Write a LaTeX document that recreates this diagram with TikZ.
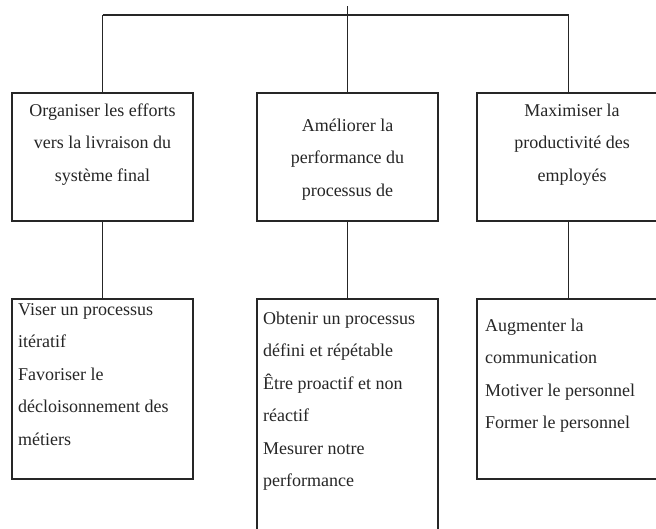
\documentclass[tikz,border=0pt]{standalone}
\usepackage{fontspec}
\setmainfont{Liberation Serif}
\begin{document}
\begin{tikzpicture}[x=1pt,y=-1pt,
  box/.style={draw=black!85, line width=1.2pt, inner sep=0pt, fill=none},
  ctxt/.style={anchor=base, inner sep=0pt, text=black!85},
  ltxt/.style={anchor=base west, inner sep=0pt, text=black!85},
  link/.style={draw=black!85, line width=1.2pt}]
\clip (0,0) rectangle (656,528);
\fill[white] (0,0) rectangle (656,528);
% boxes
\node[box, minimum width=181pt, minimum height=128pt] (b1) at (102.5,157) {};
\node[box, minimum width=181pt, minimum height=128pt] (b2) at (347.5,157) {};
\node[box, minimum width=183pt, minimum height=128pt] (b3) at (568.5,157) {};
\node[box, minimum width=181pt, minimum height=180pt] (b4) at (102.5,389) {};
\node[box, minimum width=181pt, minimum height=236pt] (b5) at (347.5,417) {};
\node[box, minimum width=183pt, minimum height=180pt] (b6) at (568.5,389) {};
% texts
\node[ctxt] (t1) at (102.5,116) {\parbox[t]{175pt}{\centering\fontsize{18}{32.5}\selectfont Organiser les efforts\\vers la livraison du\\système final}};
\node[ctxt] (t2) at (347.5,131) {\parbox[t]{175pt}{\centering\fontsize{18}{32.5}\selectfont Améliorer la\\performance du\\processus de}};
\node[ctxt] (t3) at (572,116) {\parbox[t]{175pt}{\centering\fontsize{18}{32.5}\selectfont Maximiser la\\productivité des\\employés}};
\node[ltxt] (t4) at (18,315) {\parbox[t]{175pt}{\raggedright\fontsize{18}{32.5}\selectfont Viser un processus\\itératif\\Favoriser le\\décloisonnement des\\métiers}};
\node[ltxt] (t5) at (263,324) {\parbox[t]{175pt}{\raggedright\fontsize{18}{32.5}\selectfont Obtenir un processus\\défini et répétable\\Être proactif et non\\réactif\\Mesurer notre\\performance}};
\node[ltxt] (t6) at (485,331) {\parbox[t]{175pt}{\raggedright\fontsize{18}{32.5}\selectfont Augmenter la\\communication\\Motiver le personnel\\Former le personnel}};
% connectors
\coordinate (root) at (347.5,6);
\coordinate (busL) at (102.5,15);
\coordinate (busR) at (568.5,15);
\draw[link] (busL) -- (busR);
\draw[link] (root) -- (b2.north);
\draw[link] (busL) -- (b1.north);
\draw[link] (busR) -- (b3.north);
\draw[link] (b1.south) -- (b4.north);
\draw[link] (b2.south) -- (b5.north);
\draw[link] (b3.south) -- (b6.north);
\end{tikzpicture}
\end{document}
